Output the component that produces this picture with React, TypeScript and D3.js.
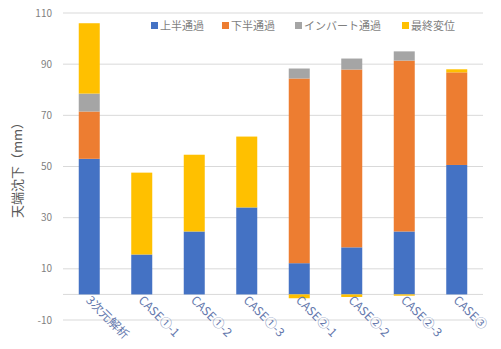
import React from "react";
import * as d3 from "d3";

const categories = ["3次元解析", "CASE①-1", "CASE①-2", "CASE①-3", "CASE②-1", "CASE②-2", "CASE②-3", "CASE③"];
const seriesNames = ["上半通過", "下半通過", "インバート通過", "最終変位"];
const upperHalf = [53, 15.6, 24.6, 34, 12.2, 18.4, 24.6, 50.6];
const lowerHalf = [18.5, 0, 0, 0, 72.2, 69.5, 66.8, 36.2];
const invert = [7, 0, 0, 0, 3.9, 4.3, 3.6, 0];
const finalDisp = [27.5, 32, 30, 27.7, -1.5, -1, -0.5, 1.2];
const colors = ["#4472C4", "#ED7D31", "#A5A5A5", "#FFC000"];
const yTicks = [-10, 10, 30, 50, 70, 90, 110];
const yTitle = "天端沈下（mm）";

export default function App() {
  const W = 501, H = 349;
  const x0 = 63, x1 = 483;
  const y = d3.scaleLinear().domain([-10, 110]).range([320, 13]);
  const x = d3.scaleBand().domain(categories).range([x0, x1]).paddingInner(0.6).paddingOuter(0.3);
  const rows = categories.map((c, i) => ({
    cat: c,
    s0: upperHalf[i],
    s1: lowerHalf[i],
    s2: invert[i],
    s3: finalDisp[i],
  }));
  const stack = d3.stack<any>().keys(["s0", "s1", "s2", "s3"]).offset(d3.stackOffsetDiverging);
  const layers = stack(rows);
  const font = "'Noto Sans CJK JP', 'Noto Sans', sans-serif";
  const legendX = [151, 222, 295, 402];
  return (
    <svg width={W} height={H} style={{ position: "absolute", left: 0, top: 0, background: "#fff" }}>
      <rect width={W} height={H} fill="#fff" />
      {yTicks.map((t) => (
        <g key={t}>
          <line x1={x0} x2={x1} y1={y(t)} y2={y(t)} stroke="#D9D9D9" strokeWidth={1} />
          <text x={52} y={y(t)} dy="0.35em" textAnchor="end" fontSize={10} fill="#7f7f7f" fontFamily={font}>
            {t}
          </text>
        </g>
      ))}
      <line x1={x0} x2={x1} y1={y(0)} y2={y(0)} stroke="#D9D9D9" strokeWidth={1} />
      {layers.map((layer, li) => (
        <g key={li} fill={colors[li]}>
          {layer.map((d: any, i: number) => {
            const top = Math.max(d[0], d[1]);
            const bot = Math.min(d[0], d[1]);
            if (top === bot) return null;
            return (
              <rect key={i} x={x(d.data.cat)} width={x.bandwidth()} y={y(top)} height={y(bot) - y(top)} />
            );
          })}
        </g>
      ))}
      {categories.map((c) => {
        const cx = (x(c) as number) + x.bandwidth() / 2 - 4;
        return (
          <text
            key={c}
            transform={`translate(${cx},${301}) rotate(45)`}
            fontSize={12}
            fill="#6478ad"
            fontFamily={font}
          >
            {c}
          </text>
        );
      })}
      <text
        transform={`translate(22,${167}) rotate(-90)`}
        textAnchor="middle"
        fontSize={13}
        fill="#595959"
        fontFamily={font}
      >
        {yTitle}
      </text>
      {seriesNames.map((s, i) => (
        <g key={s}>
          <rect x={legendX[i]} y={22} width={7} height={7} fill={colors[i]} />
          <text x={legendX[i] + 9} y={26} dy="0.35em" fontSize={11} fill="#7f7f7f" fontFamily={font}>
            {s}
          </text>
        </g>
      ))}
    </svg>
  );
}
